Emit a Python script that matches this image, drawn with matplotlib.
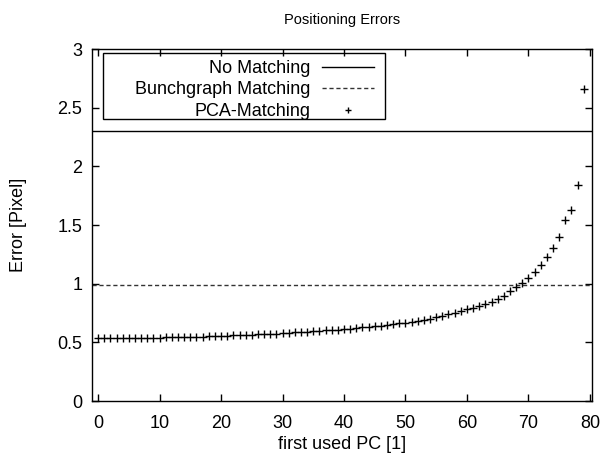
import matplotlib
matplotlib.use("Agg")
import matplotlib.pyplot as plt
from matplotlib.patches import Rectangle

plt.rcParams['font.family'] = ['Liberation Sans', 'DejaVu Sans']

# ---- data ----
first_pc = list(range(0, 80))
pca_error = [
    0.535, 0.535, 0.536, 0.536, 0.537, 0.537, 0.538, 0.538, 0.539, 0.540,
    0.541, 0.542, 0.543, 0.544, 0.545, 0.546, 0.548, 0.549, 0.551, 0.553,
    0.555, 0.557, 0.559, 0.561, 0.563, 0.565, 0.567, 0.570, 0.572, 0.575,
    0.578, 0.581, 0.584, 0.587, 0.590, 0.594, 0.597, 0.601, 0.605, 0.609,
    0.613, 0.617, 0.622, 0.627, 0.632, 0.637, 0.643, 0.649, 0.655, 0.661,
    0.667, 0.675, 0.684, 0.693, 0.703, 0.714, 0.726, 0.740, 0.754, 0.768,
    0.781, 0.795, 0.811, 0.828, 0.848, 0.873, 0.899, 0.935, 0.969, 1.006,
    1.05, 1.10, 1.16, 1.23, 1.305, 1.40, 1.54, 1.63, 1.845, 2.66,
]
no_matching = 2.30
bunchgraph_matching = 0.99
x_ticks = [0, 10, 20, 30, 40, 50, 60, 70, 80]
y_ticks = [0, 0.5, 1, 1.5, 2, 2.5, 3]
y_tick_labels = ["0", "0.5", "1", "1.5", "2", "2.5", "3"]

fig = plt.figure(figsize=(6.07, 4.57), dpi=100)
ax = fig.add_axes([92/607, 1-401/457, (591.7-92)/607, (401-49)/457])

ax.axhline(no_matching, color='black', lw=1.0, label='No Matching')
ax.axhline(bunchgraph_matching, color='#333333', lw=1.0, linestyle=(0, (3, 2)),
           label='Bunchgraph Matching')
ax.plot(first_pc, pca_error, linestyle='none', marker='+', ms=5.5, mew=1.0,
        color='black', label='PCA-Matching')

ax.set_xlim(-1, 80.3)
ax.set_ylim(0, 3)
ax.set_xticks(x_ticks)
ax.set_yticks(y_ticks)
ax.set_yticklabels(y_tick_labels)
ax.tick_params(direction='in', top=True, right=True, length=5, width=1,
               labelsize=13)
ax.tick_params(axis='x', pad=10)
ax.tick_params(axis='y', pad=7)
for s in ax.spines.values():
    s.set_linewidth(1.0)

ax.set_title('Positioning Errors', fontsize=10.5, pad=18)
ax.set_xlabel('first used PC [1]', fontsize=13, labelpad=3)
ax.set_ylabel('Error [Pixel]', fontsize=13, labelpad=22)

leg = ax.legend(loc='upper right', bbox_to_anchor=((374-92)/499.7, 0.969),
                frameon=False, markerfirst=False, fontsize=13,
                handlelength=2.9, handletextpad=0.6, labelspacing=0.25,
                borderpad=0, borderaxespad=0, markerscale=0.8)
for col in leg._legend_handle_box.get_children():
    col.align = 'right'

rect = Rectangle((0.0214, 0.8003), 0.586 - 0.0214, 0.9878 - 0.8003,
                 transform=ax.transAxes, fill=False, edgecolor='black', lw=1.0,
                 zorder=5)
ax.add_patch(rect)

fig.savefig('out.png', dpi=100)
